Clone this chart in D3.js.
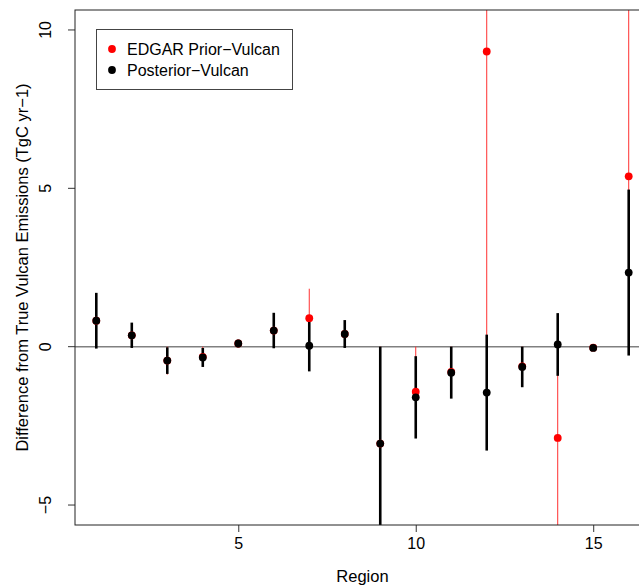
<!DOCTYPE html>
<html>
<head>
<meta charset="utf-8">
<script src="https://cdn.jsdelivr.net/npm/d3@7"></script>
<style>
  body { margin: 0; background: #fff; }
  svg { font-family: "Liberation Sans", Arial, sans-serif; }
</style>
</head>
<body>
<div id="chart"></div>
<script>
const regions = [1, 2, 3, 4, 5, 6, 7, 8, 9, 10, 11, 12, 13, 14, 15, 16];
const priorValues = [0.82, 0.36, -0.44, -0.32, 0.1, 0.51, 0.9, 0.4, -3.06, -1.42, -0.8, 9.32, -0.62, -2.88, -0.03, 5.38];
const priorErrors = [0.82, 0.36, 0.44, 0.32, 0.1, 0.51, 0.93, 0.4, 3.06, 1.42, 0.8, 9.32, 0.62, 2.88, 0.03, 5.38];
const postValues = [0.82, 0.36, -0.44, -0.34, 0.1, 0.51, 0.03, 0.4, -3.06, -1.6, -0.82, -1.45, -0.64, 0.07, -0.04, 2.34];
const postErrors = [0.88, 0.4, 0.42, 0.3, 0.12, 0.56, 0.81, 0.44, 3.06, 1.3, 0.82, 1.83, 0.64, 0.99, 0.03, 2.62];
const xTicks = [5, 10, 15];
const yTicks = [-5, 0, 5, 10];
const legendLabels = ['EDGAR Prior\u2212Vulcan', 'Posterior\u2212Vulcan'];

const W = 639, H = 587;
const margin = { top: 10, right: -11, bottom: 62, left: 75 };
const width = W - margin.left - margin.right;
const height = H - margin.top - margin.bottom;

const svg = d3.select('#chart').append('svg')
  .attr('width', W)
  .attr('height', H);

const g = svg.append('g')
  .attr('transform', `translate(${margin.left}, ${margin.top})`);

const x = d3.scaleLinear().domain([0.4, 16.6]).range([0, width]);
const y = d3.scaleLinear().domain([-5.63, 10.63]).range([height, 0]);

const fmt = (d) => (d < 0 ? '\u2212' + Math.abs(d) : String(d));

// axes
const xAxis = d3.axisBottom(x).tickValues(xTicks).tickSize(7).tickPadding(6).tickFormat(fmt);
const yAxis = d3.axisLeft(y).tickValues(yTicks).tickSize(7).tickPadding(6).tickFormat(fmt);

const gx = g.append('g').attr('transform', `translate(0, ${height})`).call(xAxis);
gx.select('.domain').remove();
gx.selectAll('text').attr('font-size', 16).attr('fill', '#000').attr('font-family', 'Liberation Sans, Arial, sans-serif');
gx.selectAll('line').attr('stroke', '#333');

const gy = g.append('g').call(yAxis);
gy.select('.domain').remove();
gy.selectAll('line').attr('stroke', '#333');
gy.selectAll('.tick').attr('transform', null);
gy.selectAll('.tick line').attr('transform', (d) => `translate(0, ${y(d)})`);
gy.selectAll('text')
  .attr('font-size', 16).attr('fill', '#000').attr('font-family', 'Liberation Sans, Arial, sans-serif')
  .attr('text-anchor', 'middle')
  .attr('dy', 0)
  .attr('x', 0)
  .attr('y', 0)
  .attr('transform', (d) => `translate(-24, ${y(d)}) rotate(-90)`);

// zero line
g.append('line')
  .attr('x1', 0).attr('x2', width)
  .attr('y1', y(0)).attr('y2', y(0))
  .attr('stroke', '#808080').attr('stroke-width', 1.5);

// clip for marks
svg.append('clipPath').attr('id', 'plotclip')
  .append('rect').attr('width', width).attr('height', height);

const marks = g.append('g').attr('clip-path', 'url(#plotclip)');

// prior error bars
marks.selectAll('.prior-bar')
  .data(regions)
  .join('line')
  .attr('class', 'prior-bar')
  .attr('x1', (d) => x(d)).attr('x2', (d) => x(d))
  .attr('y1', (d, i) => y(priorValues[i] + priorErrors[i]))
  .attr('y2', (d, i) => y(priorValues[i] - priorErrors[i]))
  .attr('stroke', '#ff3030').attr('stroke-width', 1);

// posterior error bars
marks.selectAll('.post-bar')
  .data(regions)
  .join('line')
  .attr('class', 'post-bar')
  .attr('x1', (d) => x(d)).attr('x2', (d) => x(d))
  .attr('y1', (d, i) => y(postValues[i] + postErrors[i]))
  .attr('y2', (d, i) => y(postValues[i] - postErrors[i]))
  .attr('stroke', '#000').attr('stroke-width', 2.6);

// prior points
marks.selectAll('.prior-pt')
  .data(regions)
  .join('circle')
  .attr('class', 'prior-pt')
  .attr('cx', (d) => x(d))
  .attr('cy', (d, i) => y(priorValues[i]))
  .attr('r', 3.9)
  .attr('fill', '#ff0000');

// posterior points
marks.selectAll('.post-pt')
  .data(regions)
  .join('circle')
  .attr('class', 'post-pt')
  .attr('cx', (d) => x(d))
  .attr('cy', (d, i) => y(postValues[i]))
  .attr('r', 3.9)
  .attr('fill', '#000');

// box
g.append('rect')
  .attr('x', 0).attr('y', 0)
  .attr('width', width).attr('height', height)
  .attr('fill', 'none').attr('stroke', '#222').attr('stroke-width', 1);

// axis titles
svg.append('text')
  .attr('x', margin.left + x(8.5)).attr('y', 582)
  .attr('text-anchor', 'middle')
  .attr('font-size', 16.5)
  .text('Region');

svg.append('text')
  .attr('transform', `translate(28, ${margin.top + y(2.5)}) rotate(-90)`)
  .attr('text-anchor', 'middle')
  .attr('font-size', 16.5)
  .text('Difference from True Vulcan Emissions (TgC yr\u22121)');

// legend
const legend = svg.append('g').attr('transform', 'translate(96.5, 29.5)');
legend.append('rect')
  .attr('width', 196).attr('height', 60)
  .attr('fill', '#fff').attr('stroke', '#444').attr('stroke-width', 1);
legend.selectAll('circle')
  .data(legendLabels)
  .join('circle')
  .attr('cx', 15.5)
  .attr('cy', (d, i) => 19.5 + i * 21)
  .attr('r', 3.9)
  .attr('fill', (d, i) => (i === 0 ? '#ff0000' : '#000'));
legend.selectAll('text')
  .data(legendLabels)
  .join('text')
  .attr('x', 30.5)
  .attr('y', (d, i) => 25 + i * 21)
  .attr('font-size', 16)
  .text((d) => d);
</script>
</body>
</html>
